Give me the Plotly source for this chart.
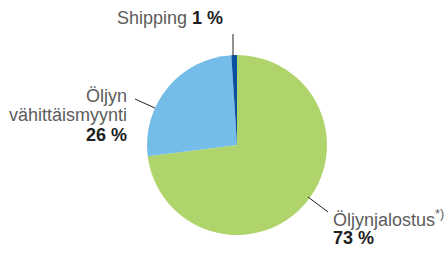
import plotly.graph_objects as go

# Data
categories = ["Öljynjalostus", "Öljyn vähittäismyynti", "Shipping"]
values = [73, 26, 1]
pct_labels = ["73 %", "26 %", "1 %"]
colors = ["#b0d46c", "#74bde8", "#0b4f9f"]

W, H = 446, 256
cx, cy, r = 237, 145, 90

def px(x):
    return x / W

def py(y):
    return 1 - y / H

fig = go.Figure(go.Pie(
    labels=categories,
    values=values,
    marker=dict(colors=colors, line=dict(width=0)),
    sort=False,
    direction="clockwise",
    rotation=0,
    textinfo="none",
    hoverinfo="label+percent",
    showlegend=False,
    domain=dict(x=[px(cx - r), px(cx + r)], y=[py(cy + r), py(cy - r)]),
))

FAM = "Liberation Sans, Arial, sans-serif"
name_font = dict(family=FAM, size=18, color="#5c5c5c")
pct_font = dict(family=FAM, size=18, color="#1e1e1e")

# label lines: (text, font, x, y_center, xanchor)
lines = [
    (f"Shipping <b><span style='color:#1e1e1e'>{pct_labels[2]}</span></b>", name_font, 224, 18, "right"),
    ("Öljyn", name_font, 128, 96, "right"),
    ("vähittäismyynti", name_font, 128, 115, "right"),
    (f"<b>{pct_labels[1]}</b>", pct_font, 128, 134.5, "right"),
    ("Öljynjalostus<sup>*)</sup>", name_font, 332, 218.5, "left"),
    (f"<b>{pct_labels[0]}</b>", pct_font, 332, 237.5, "left"),
]
for text, font, x, y, xa in lines:
    fig.add_annotation(x=px(x), y=py(y), xref="paper", yref="paper",
                       xanchor=xa, yanchor="middle", text=text,
                       showarrow=False, font=font, borderpad=0)

leaders = [((308, 197), (328, 212)), ((155, 108), (135, 99)), ((233, 56), (233, 34))]
for (x0, y0), (x1, y1) in leaders:
    fig.add_shape(type="line", xref="paper", yref="paper",
                  x0=px(x0), y0=py(y0), x1=px(x1), y1=py(y1),
                  line=dict(color="#222222", width=1))

fig.update_layout(width=W, height=H, margin=dict(l=0, r=0, t=0, b=0),
                  paper_bgcolor="white", plot_bgcolor="white")

fig.write_html("out.html", config={"displayModeBar": False},
               post_script="document.body.style.margin='0';")
